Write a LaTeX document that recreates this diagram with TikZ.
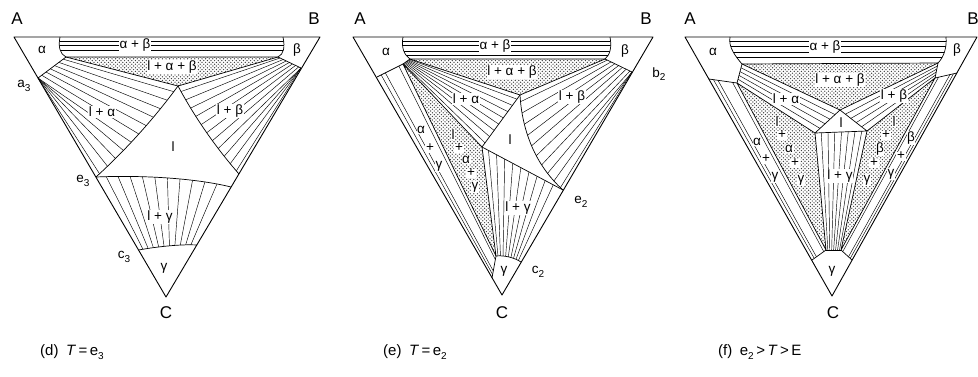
\documentclass[tikz,border=0pt]{standalone}
\usepackage{fontspec}
\setmainfont{Liberation Sans}
\usetikzlibrary{calc,patterns}
\newcommand\subx[1]{\raisebox{-0.5ex}{\fontsize{10}{11}\selectfont #1}}
\newcommand\lblfont{\fontsize{13.5}{15}\selectfont}
\newcommand\bigfont{\fontsize{17}{19}\selectfont}
\newcommand\capfont{\fontsize{15}{17}\selectfont}
\pgfdeclarepatternformonly{stipple}{\pgfqpoint{-0.5pt}{-0.5pt}}{\pgfqpoint{3.6pt}{3.6pt}}{\pgfqpoint{3.6pt}{3.6pt}}{%
  \pgfpathcircle{\pgfqpoint{0.4pt}{0.4pt}}{0.7pt}%
  \pgfpathcircle{\pgfqpoint{2.2pt}{2.2pt}}{0.7pt}%
  \pgfusepath{fill}}
\begin{document}
\begin{tikzpicture}[x=1pt,y=-1pt,
  edge/.style={line width=0.9pt, line join=round},
  bd/.style={line width=0.7pt, line join=round},
  tie/.style={line width=0.45pt},
  lab/.style={font=\lblfont, inner sep=0.6pt},
  labw/.style={lab, fill=white},
  corner/.style={font=\bigfont, inner sep=0pt},
  capt/.style={font=\capfont, inner sep=0pt, anchor=west},
  stip/.style={pattern=stipple, pattern color=black!75},
]
\useasboundingbox (0,0) rectangle (978,376);

%%%%%%%%%%%%%%%%%%%%%%%% panel (d)
\coordinate (dA) at (14,37);
\coordinate (dB) at (320,37);
\coordinate (dC) at (166,297);
\coordinate (dTa) at (60,37);
\coordinate (dTb) at (283,37);
\coordinate (dPa) at (66,57);
\coordinate (dPb) at (278,57);
\coordinate (da3) at (38,78);
\coordinate (db3) at (301,68);
\coordinate (dL) at (178,86);
\coordinate (de3) at (96,177);
\coordinate (dRl) at (239,174);
\coordinate (dRg) at (231,187);
\coordinate (dc3) at (138.5,250);
\coordinate (dGr) at (197,245);

\fill[stip] (dPa) -- (dPb) -- (dL) -- cycle;
\begin{scope}
  \clip (dTa) .. controls (58,47) and (60,54) .. (dPa) -- (dPb) .. controls (284,54) and (285,47) .. (dTb) -- cycle;
  \foreach \y in {41.5,45.5,50.5} \draw[tie] (50,\y) -- (300,\y);
\end{scope}
\begin{scope}
  \clip (dPa) -- (dL) .. controls (153.7,119) and (126.3,149.4) .. (de3) -- (da3) -- cycle;
  \foreach \q in {0.06,0.15,...,0.97} {
    \path ($(dPa)!{min(1,1.7*\q)}!(da3)$) coordinate (s) ($(dL)!\q!(de3)$) coordinate (e);
    \draw[tie] (s) -- ($(s)!1.3!(e)$);
  }
\end{scope}
\begin{scope}
  \clip (dPb) -- (dL) .. controls (195,117.6) and (215.4,147) .. (dRl) -- (db3) -- cycle;
  \foreach \q in {0.06,0.15,...,0.97} {
    \path ($(dPb)!{min(1,1.5*\q)}!(db3)$) coordinate (s) ($(dL)!\q!(dRl)$) coordinate (e);
    \draw[tie] (s) -- ($(s)!1.3!(e)$);
  }
\end{scope}
\begin{scope}
  \clip (de3) .. controls (140,175) and (195,178) .. (dRg) -- (dGr) .. controls (180,244) and (155,247) .. (dc3) -- cycle;
  \foreach \q in {0.08,0.17,...,0.95} {
    \path ($(dc3)!\q!(dGr)$) coordinate (s) ($(de3)!\q!(dRg)$) coordinate (e);
    \draw[tie] ($(e)!1.15!(s)$) -- ($(s)!1.15!(e)$);
  }
\end{scope}
\draw[bd] (dTa) .. controls (58,47) and (60,54) .. (dPa) -- (dPb) .. controls (284,54) and (285,47) .. (dTb);
\draw[bd] (dPa) -- (da3);
\draw[bd] (dPb) -- (db3);
\draw[bd] (dPa) -- (dL) -- (dPb);
\draw[bd] (dL) .. controls (153.7,119) and (126.3,149.4) .. (de3);
\draw[bd] (dL) .. controls (195,117.6) and (215.4,147) .. (dRl);
\draw[bd] (de3) .. controls (140,175) and (195,178) .. (dRg);
\draw[bd] (dc3) .. controls (155,247) and (180,244) .. (dGr);
\draw[edge] (dA) -- (dB) -- (dC) -- cycle;

\node[corner] (dlA) at (17,19) {A};
\node[corner] (dlB) at (314,19) {B};
\node[corner] (dlC) at (166,313) {C};
\node[lab] (dl1) at (42,50) {α};
\node[labw] (dl2) at (135,45) {α + β};
\node[lab] (dl3) at (297,50) {β};
\node[labw] (dl4) at (172,67) {l + α + β};
\node[lab] (dl5) at (24,86) {a\subx{3}};
\node[labw] (dl6) at (102,112) {l + α};
\node[labw] (dl7) at (230,111) {l + β};
\node[lab] (dl8) at (173,147) {l};
\node[lab] (dl9) at (83,181) {e\subx{3}};
\node[labw] (dl10) at (160,217) {l + γ};
\node[lab] (dl11) at (124,257) {c\subx{3}};
\node[lab] (dl12) at (164,268) {γ};
\node[capt] (dcap) at (40,352) {(d)\enspace\textit{T}\,=\,e\subx{3}};

%%%%%%%%%%%%%%%%%%%%%%%% panel (e)
\coordinate (eA) at (353,37);
\coordinate (eB) at (653,37);
\coordinate (eC) at (502,295);
\coordinate (eTa) at (403,37);
\coordinate (eTb) at (610,37);
\coordinate (ePa) at (410,59);
\coordinate (ePg) at (403,64);
\coordinate (eEa) at (377,77);
\coordinate (ePb) at (605,59);
\coordinate (eb2) at (632,72);
\coordinate (eL1) at (520,95);
\coordinate (eL2) at (482,147);
\coordinate (ee2) at (563,190);
\coordinate (eQa) at (496,256);
\coordinate (ec2) at (521,262);
\coordinate (eFa) at (492,278);

\fill[stip] (ePa) -- (ePb) -- (eL1) -- cycle;
\fill[stip] (ePg) -- (eL2) -- (eQa) -- cycle;
\begin{scope}
  \clip (eTa) .. controls (401,47) and (404,55) .. (ePa) -- (ePb) .. controls (610,55) and (612,47) .. (eTb) -- cycle;
  \foreach \y in {41.5,45.5,51,55} \draw[tie] (395,\y) -- (620,\y);
\end{scope}
\foreach \q in {0.16,0.32,0.84}
  \draw[tie] ($(eEa)!\q!(ePg)$) -- ($(eFa)!\q!(eQa)$);
\begin{scope}
  \clip (ePa) -- (eL1) -- (eL2) -- (ePg) -- cycle;
  \foreach \q in {0.08,0.2,...,0.95} {
    \path ($(ePa)!\q!(ePg)$) coordinate (s) ($(eL1)!\q!(eL2)$) coordinate (e);
    \draw[tie] (s) -- ($(s)!1.1!(e)$);
  }
\end{scope}
\begin{scope}
  \clip (ePb) -- (eb2) -- (ee2) .. controls (535,165) and (522,130) .. (eL1) -- cycle;
  \foreach \q in {0.06,0.16,...,0.97} {
    \path ($(ePb)!{min(1,1.4*\q)}!(eb2)$) coordinate (s) ($(eL1)!\q!(ee2)$) coordinate (e);
    \draw[tie] (s) -- ($(s)!1.35!(e)$);
  }
\end{scope}
\begin{scope}
  \clip (eL2) -- (ee2) -- (ec2) .. controls (515,258) and (505,255) .. (eQa) -- cycle;
  \foreach \q in {0.08,0.18,...,0.95} {
    \path ($(eQa)!\q!(ec2)$) coordinate (s) ($(eL2)!\q!(ee2)$) coordinate (e);
    \draw[tie] ($(e)!1.1!(s)$) -- ($(s)!1.1!(e)$);
  }
\end{scope}
\draw[bd] (eTa) .. controls (401,47) and (404,55) .. (ePa) -- (ePb) .. controls (610,55) and (612,47) .. (eTb);
\draw[bd] (ePa) -- (ePg) -- (eEa);
\draw[bd] (ePb) -- (eb2);
\draw[bd] (ePa) -- (eL1) -- (ePb);
\draw[bd] (ePg) -- (eL2) -- (eQa) -- cycle;
\draw[bd] (eL1) -- (eL2) -- (ee2);
\draw[bd] (eL1) .. controls (522,130) and (535,165) .. (ee2);
\draw[bd] (eQa) .. controls (505,255) and (515,258) .. (ec2);
\draw[bd] (eQa) -- (eFa);
\draw[edge] (eA) -- (eB) -- (eC) -- cycle;

\node[corner] (elA) at (360,19) {A};
\node[corner] (elB) at (646,19) {B};
\node[corner] (elC) at (502,313) {C};
\node[lab] (el1) at (386,52) {α};
\node[labw] (el2) at (495,46) {α + β};
\node[lab] (el3) at (625,51) {β};
\node[lab] (el4) at (659,74) {b\subx{2}};
\node[labw] (el5) at (512,72) {l + α + β};
\node[labw] (el6) at (466,99) {l + α};
\node[labw] (el7) at (572,97) {l + β};
\node[lab] (el8) at (510,140) {l};
\node[labw] (el9) at (421,130) {α};
\node[labw] (el10) at (430,148) {+};
\node[labw] (el11) at (439,166) {γ};
\node[labw] (el12) at (453,135) {l};
\node[labw] (el13) at (459,148) {+};
\node[labw] (el14) at (466,160) {α};
\node[labw] (el15) at (471,173) {+};
\node[labw] (el16) at (475,187) {γ};
\node[labw] (el17) at (518,208) {l + γ};
\node[lab] (el18) at (581,202) {e\subx{2}};
\node[lab] (el19) at (538,272) {c\subx{2}};
\node[lab] (el20) at (504,271) {γ};
\node[capt] (ecap) at (383,352) {(e)\enspace\textit{T}\,=\,e\subx{2}};

%%%%%%%%%%%%%%%%%%%%%%%% panel (f)
\coordinate (fA) at (685,37);
\coordinate (fB) at (977,37);
\coordinate (fC) at (832,296);
\coordinate (fTa) at (730,37);
\coordinate (fTb) at (946,37);
\coordinate (fPa1) at (742,64);
\coordinate (fPa2) at (737,83);
\coordinate (fEa) at (709,79);
\coordinate (fPb1) at (938,63);
\coordinate (fPb2) at (935,78);
\coordinate (fEb) at (957,73);
\coordinate (fLab) at (840,110);
\coordinate (fLag) at (815,133);
\coordinate (fLbg) at (867,131);
\coordinate (fQa) at (826,250);
\coordinate (fQb) at (841,250);
\coordinate (fFa) at (812,260);
\coordinate (fFb) at (852,260);

\fill[stip] (fPa1) -- (fPb1) -- (fLab) -- cycle;
\fill[stip] (fPa2) -- (fLag) -- (fQa) -- cycle;
\fill[stip] (fPb2) -- (fLbg) -- (fQb) -- cycle;
\begin{scope}
  \clip (fTa) .. controls (728,47) and (736,57) .. (fPa1) -- (fPb1) .. controls (944,57) and (947,47) .. (fTb) -- cycle;
  \foreach \y in {41.5,46.5,52,57} \draw[tie] (720,\y) -- (955,\y);
\end{scope}
\foreach \q in {0.2,0.4,0.6,0.8}
  \draw[tie] ($(fPa1)!\q!(fPa2)$) -- ($(fLab)!\q!(fLag)$);
\foreach \q in {0.2,0.4,0.6,0.8}
  \draw[tie] ($(fPb1)!\q!(fPb2)$) -- ($(fLab)!\q!(fLbg)$);
\foreach \q in {0.12,0.25,...,0.95}
  \draw[tie] ($(fQa)!\q!(fQb)$) -- ($(fLag)!\q!(fLbg)$);
\foreach \q in {0.16,0.32,0.84}
  \draw[tie] ($(fEa)!\q!(fPa2)$) -- ($(fFa)!\q!(fQa)$);
\foreach \q in {0.16,0.32,0.84}
  \draw[tie] ($(fEb)!\q!(fPb2)$) -- ($(fFb)!\q!(fQb)$);
\draw[bd] (fTa) .. controls (728,47) and (736,57) .. (fPa1) -- (fPb1) .. controls (944,57) and (947,47) .. (fTb);
\draw[bd] (fPa1) -- (fPa2) -- (fEa);
\draw[bd] (fPb1) -- (fPb2) -- (fEb);
\draw[bd] (fPa1) -- (fLab) -- (fPb1);
\draw[bd] (fLab) -- (fLag) -- (fLbg) -- cycle;
\draw[bd] (fPa2) -- (fLag) -- (fQa) -- cycle;
\draw[bd] (fPb2) -- (fLbg) -- (fQb) -- cycle;
\draw[bd] (fQa) -- (fQb);
\draw[bd] (fQa) -- (fFa);
\draw[bd] (fQb) -- (fFb);
\draw[edge] (fA) -- (fB) -- (fC) -- cycle;

\node[corner] (flA) at (690,19) {A};
\node[corner] (flB) at (973,19) {B};
\node[corner] (flC) at (833,313) {C};
\node[lab] (fl1) at (713,52) {α};
\node[labw] (fl2) at (825,47) {α + β};
\node[lab] (fl3) at (957,50) {β};
\node[labw] (fl4) at (840,80) {l + α + β};
\node[labw] (fl5) at (786,99) {l + α};
\node[labw] (fl6) at (894,96) {l + β};
\node[lab] (fl7) at (841,123) {l};
\node[labw] (fl8) at (840,176) {l + γ};
\node[labw] (fl9) at (757,142) {α};
\node[labw] (fl10) at (766,159) {+};
\node[labw] (fl11) at (775,177) {γ};
\node[labw] (fl12) at (777,122) {l};
\node[labw] (fl13) at (782,135) {+};
\node[labw] (fl14) at (789,149) {α};
\node[labw] (fl15) at (795,163) {+};
\node[labw] (fl16) at (801,180) {γ};
\node[labw] (fl17) at (894,122) {l};
\node[labw] (fl18) at (886,135) {+};
\node[labw] (fl19) at (880,149) {β};
\node[labw] (fl20) at (874,163) {+};
\node[labw] (fl21) at (867,180) {γ};
\node[labw] (fl22) at (911,138) {β};
\node[labw] (fl23) at (901,156) {+};
\node[labw] (fl24) at (891,174) {γ};
\node[lab] (fl25) at (832,271) {γ};
\node[capt] (fcap) at (718,352) {(f)\enspace e\subx{2}\,>\,\textit{T}\,>\,E};
\end{tikzpicture}
\end{document}
